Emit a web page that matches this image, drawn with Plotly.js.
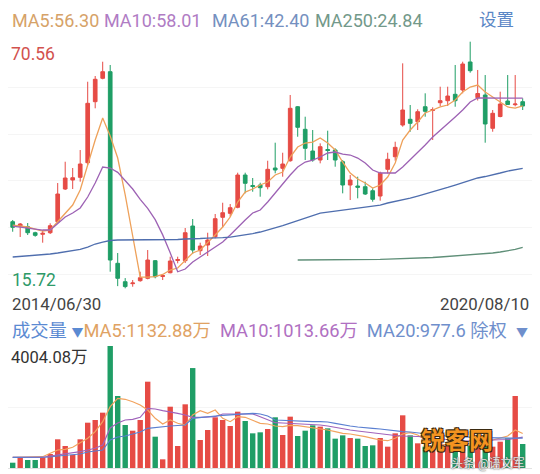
<!DOCTYPE html>
<html><head><meta charset="utf-8">
<script src="https://cdn.plot.ly/plotly-3.0.1.min.js"></script>
<style>html,body{margin:0;padding:0;background:#fff;}#chart{width:540px;height:474px;}</style>
</head><body><div id="chart"></div>
<script>
// ---------- data ----------
const dateLabels = ['2014/06/30', '2020/08/10'];
const priceMaxLabel = 70.56, priceMinLabel = 15.72;
const volMaxLabel = 4004.08;

const openP  = [30.53,29.57,29.42,28.08,27.73,28.08,30.53,37.80,39.80,40.40,
                43.65,57.22,62.42,63.89,21.28,17.18,16.75,17.41,17.94,21.86,
                18.35,19.18,21.90,21.86,29.57,24.08,25.35,27.19,31.51,32.39,
                33.73,40.91,38.58,38.69,38.31,42.47,42.40,44.09,56.10,51.08,
                46.25,44.25,46.59,46.48,43.87,38.69,38.47,38.31,37.42,36.24,
                42.18,44.98,52.03,53.30,52.77,56.10,55.26,56.99,57.44,58.86,
                59.82,66.05,58.11,58.71,51.30,53.92,57.37,56.55,57.22];
const highP  = [30.91,30.24,30.24,28.30,28.68,30.17,39.13,43.87,42.47,46.47,
                61.66,62.93,66.11,65.38,23.57,17.99,17.56,19.41,24.23,22.01,
                18.90,22.75,22.75,29.13,31.13,25.86,28.08,32.24,34.75,34.46,
                41.43,41.43,40.25,39.20,44.09,48.10,45.87,58.71,56.26,53.88,
                50.92,47.96,50.77,46.85,44.25,40.91,40.54,39.43,37.96,41.65,
                45.87,48.32,65.75,56.48,55.53,59.08,55.97,60.55,60.55,65.38,
                66.11,70.56,64.27,63.15,55.37,59.44,63.15,63.15,57.97];
const lowP   = [28.30,27.13,27.57,27.19,25.86,27.79,30.24,37.58,37.80,39.43,
                43.14,55.75,62.20,19.41,16.20,15.72,16.07,17.18,17.72,17.94,
                17.56,19.05,21.28,21.34,23.35,23.12,22.90,26.84,29.28,31.64,
                33.51,36.84,37.20,36.09,37.73,41.29,40.54,43.87,49.43,44.25,
                43.87,43.51,44.25,42.76,36.84,35.35,35.73,36.47,34.98,35.20,
                41.29,44.09,51.66,50.54,50.92,53.88,48.70,56.26,56.26,56.10,
                59.08,63.67,57.48,48.10,50.54,53.75,56.48,56.19,55.37];
const closeP = [29.28,30.02,28.08,27.50,27.95,29.64,36.69,40.25,40.31,43.36,
                56.86,62.20,63.89,22.01,17.94,16.10,16.90,18.07,22.01,18.30,
                18.55,21.79,22.12,28.08,24.23,25.12,26.46,31.20,32.53,33.64,
                40.91,39.07,38.36,38.09,42.18,42.03,43.36,55.75,51.52,46.85,
                44.25,47.21,46.36,44.25,38.69,39.80,38.18,36.69,35.51,41.29,
                44.41,47.07,55.37,52.41,54.99,55.08,55.48,57.44,58.48,57.44,
                65.60,64.11,59.04,52.26,54.64,56.70,56.59,56.70,56.26];

const ma5   = [29.79,29.57,29.35,28.90,28.46,28.68,30.46,32.46,34.24,37.58,
               43.13,48.70,53.59,49.59,44.69,36.47,27.35,18.23,18.20,18.30,
               18.80,19.79,20.23,22.01,23.57,24.23,25.79,27.57,29.35,31.57,
               34.91,37.13,37.80,38.69,39.36,40.92,41.58,44.92,47.14,48.03,
               48.25,49.14,48.03,46.47,43.80,41.36,40.03,39.14,38.02,38.69,
               40.47,43.58,48.70,50.92,52.70,54.70,55.37,56.04,56.48,57.59,
               59.37,60.48,60.93,59.37,58.26,57.15,56.04,55.81,56.30];
const ma10  = [29.57,29.35,29.13,28.90,28.68,28.68,30.20,31.57,32.46,33.58,
               36.02,39.14,42.69,42.47,41.50,39.70,37.80,35.50,33.50,31.00,
               27.60,23.60,19.40,20.00,21.56,22.68,23.79,24.90,26.01,27.57,
               29.35,30.91,32.46,33.13,34.91,36.91,39.14,40.92,42.69,43.80,
               44.25,44.92,45.81,46.03,45.58,45.36,44.69,43.58,42.03,41.36,
               41.36,41.36,42.69,44.25,45.81,47.59,49.36,50.92,52.48,53.82,
               55.37,57.15,58.04,58.04,58.04,57.95,58.00,58.00,58.01];
const ma61  = [22.68,22.79,22.90,23.01,23.12,23.35,23.57,23.79,24.01,24.35,
               24.90,25.57,26.01,26.35,26.46,26.46,26.46,26.46,26.46,26.46,
               26.46,26.46,26.57,26.68,26.68,26.79,26.90,26.90,27.01,27.12,
               27.35,27.57,27.90,28.24,28.68,29.13,29.68,30.24,30.79,31.35,
               31.91,32.46,32.68,32.91,33.13,33.46,33.69,33.91,34.13,34.24,
               34.69,35.02,35.35,35.80,36.24,36.69,37.13,37.58,38.14,38.69,
               39.25,39.80,40.25,40.58,40.92,41.36,41.80,42.14,42.40];
const ma250 = [null,null,null,null,null,null,null,null,null,null,
               null,null,null,null,null,null,null,null,null,null,
               null,null,null,null,null,null,null,null,null,null,
               null,null,null,null,null,null,null,null,22.01,22.01,
               22.01,22.01,22.01,22.06,22.10,22.12,22.12,22.12,22.12,22.14,
               22.19,22.23,22.28,22.34,22.41,22.50,22.57,22.68,22.79,22.90,
               23.01,23.12,23.28,23.43,23.57,23.79,24.01,24.35,24.84];

const volume = [174,351,263,263,351,459,942,722,427,942,
                1487,1575,1816,4004.08,2363,1411,1225,1575,2833,1028,
                285,2012,722,2090,3280,919,1247,1664,1575,1378,
                1848,1543,1138,1171,1280,1664,1083,1685,1050,1225,
                1400,1357,1302,963,1072,985,963,722,744,985,
                700,1138,1729,1072,810,700,650,800,750,700,
                850,750,700,800,700,864,975,2363,788];
const volMa5  = [351,351,351,351,371,482,591,614,679,830,
                 975,1191,1520,2012,2288,2255,2176,2068,1904,1631,
                 1444,1575,1467,1411,1739,1881,1795,1904,1631,1520,
                 1684,1664,1575,1467,1444,1378,1355,1401,1388,1355,
                 1336,1303,1247,1191,1139,1116,1083,1027,975,919,
                 896,975,1116,1159,1083,919,853,788,755,722,
                 722,755,788,853,919,1008,1050,1250,1132.88];
const volMa10 = [351,351,351,351,351,394,427,459,492,535,
                 591,647,755,1313,1477,1575,1598,1664,1959,1936,
                 1881,1848,1795,1739,1664,1664,1664,1684,1772,1772,
                 1795,1795,1772,1684,1598,1487,1477,1467,1460,1444,
                 1428,1411,1378,1329,1280,1247,1214,1182,1139,1116,
                 1083,1067,1050,1050,1034,1017,985,952,919,903,
                 886,886,886,903,919,919,935,968,1013.66];
const volMa20 = [351,351,351,351,351,361,394,410,427,459,
                 525,558,591,919,1017,1050,1116,1182,1303,1336,
                 1346,1378,1395,1411,1631,1664,1674,1707,1730,1749,
                 1772,1789,1795,1772,1707,1575,1560,1543,1530,1520,
                 1520,1520,1510,1467,1411,1378,1346,1313,1303,1280,
                 1247,1214,1191,1182,1149,1116,1083,1067,1050,1034,
                 1017,1008,1000,995,985,978,978,978,977.6];

// ---------- styling / layout ----------
const FONT = "Roboto, 'Noto Sans CJK SC', sans-serif";
const UP = '#e64b45', DOWN = '#1f9e66';
const W = 540, H = 474, ML = 8, MR = 8;
const idx = openP.map((_, i) => i);
const volColors = openP.map((o, i) => closeP[i] >= o ? UP : DOWN);

// pixel geometry of the two panels
const priceTopPx = 40, priceBotPx = 290, maxPx = 41.7, minPx = 288.3;
const pScale = (priceMaxLabel - priceMinLabel) / (minPx - maxPx);
const priceAt = yPx => priceMaxLabel - (yPx - maxPx) * pScale;
const volTopPx = 346, volBotPx = 468;
const firstCandlePx = 12.7, stepPx = 7.5;
const xAt = p => (p - firstCandlePx) / stepPx;

const px = v => (v - ML) / (W - ML - MR);
const py = v => 1 - v / H;
function ann(text, x, y, color, size, xanchor, extra) {
  return Object.assign({text: text, x: px(x), y: py(y), xref: 'paper', yref: 'paper',
    xanchor: xanchor || 'left', yanchor: 'middle', showarrow: false,
    font: {family: FONT, size: size, color: color}}, extra || {});
}

const lineTrace = (y, color, axis, w) => ({type: 'scatter', mode: 'lines', x: idx, y: y,
  yaxis: axis, line: {color: color, width: w || 1.2}, hoverinfo: 'skip', connectgaps: false});

const traces = [
  {type: 'candlestick', x: idx, open: openP, high: highP, low: lowP, close: closeP,
   increasing: {line: {color: UP, width: 1}, fillcolor: UP},
   decreasing: {line: {color: DOWN, width: 1}, fillcolor: DOWN},
   whiskerwidth: 0, hoverinfo: 'skip', yaxis: 'y'},
  lineTrace(ma5, '#eea15a', 'y', 1.3),
  lineTrace(ma10, '#9d62b4', 'y', 1.3),
  lineTrace(ma61, '#4f6eae', 'y', 1.3),
  lineTrace(ma250, '#5f8f78', 'y', 1.3),
  {type: 'bar', x: idx, y: volume, yaxis: 'y2', width: 0.72,
   marker: {color: volColors, line: {width: 0}}, hoverinfo: 'skip'},
  lineTrace(volMa5, '#f2a35e', 'y2', 1.2),
  lineTrace(volMa10, '#a063bb', 'y2', 1.2),
  lineTrace(volMa20, '#5a7fd1', 'y2', 1.2)
];

const annotations = [
  ann('MA5:56.30', 9.6, 20, '#d6a268', 18),
  ann('MA10:58.01', 102, 20, '#b07cc4', 18),
  ann('MA61:42.40', 210, 20, '#7590c0', 18),
  ann('MA250:24.84', 313, 20, '#73998a', 18),
  ann('设置', 516, 20, '#5b87c6', 17.5, 'right'),
  ann(String(priceMaxLabel.toFixed(2)), 9.3, 53.5, '#d2524e', 17.5),
  ann(String(priceMinLabel.toFixed(2)), 9.6, 280, '#2e9a68', 17.5),
  ann(dateLabels[0], 9.6, 303.5, '#444444', 16.8),
  ann(dateLabels[1], 531, 303.5, '#444444', 16.8, 'right'),
  ann('<span style="color:#5b8ad2">成交量 <span style="font-size:12px">▼</span></span>' +
      '<span style="color:#e0a263">MA5:1132.88万</span>  ' +
      '<span style="color:#b070c2">MA10:1013.66万</span>  ' +
      '<span style="color:#6f8fcc">MA20:977.6 除权  <span style="font-size:12px">▼</span></span>',
      9.6, 330, '#5b8ad2', 18.3),
  ann(volMaxLabel.toFixed(2) + '万', 9, 357, '#333333', 16.5),
  ann('<b>锐客网</b>', 457, 441, '#f39320', 24, 'center',
      {font: {family: FONT, size: 24, color: '#f39320',
              shadow: '-1px -1px 0 #3a2a10, 1px -1px 0 #3a2a10, -1px 1px 0 #3a2a10, 1px 1px 0 #3a2a10'}}),
  ann('头条 @语文军', 488, 463, 'rgba(255,255,255,0.9)', 12, 'center',
      {font: {family: FONT, size: 12, color: 'rgba(255,255,255,0.85)',
              shadow: '0 0 2px #555, 0 0 1px #555'}})
];

const layout = {
  width: W, height: H, margin: {l: ML, r: MR, t: 0, b: 0, pad: 0},
  paper_bgcolor: '#ffffff', plot_bgcolor: '#ffffff', showlegend: false,
  xaxis: {range: [xAt(ML), xAt(W - MR)], showgrid: false, zeroline: false,
          showticklabels: false, ticks: '', rangeslider: {visible: false},
          fixedrange: true, anchor: 'y', showline: false},
  yaxis: {domain: [py(priceBotPx), py(priceTopPx)],
          range: [priceAt(priceBotPx), priceAt(priceTopPx)],
          tickvals: [40.4, 87, 134, 180, 227, 274].map(priceAt),
          showticklabels: false, ticks: '', gridcolor: '#f5f5f5', gridwidth: 1,
          zeroline: false, fixedrange: true, anchor: 'x'},
  yaxis2: {domain: [py(volBotPx), py(volTopPx)], range: [0, volMaxLabel],
           tickvals: [volMaxLabel / 2, volMaxLabel * 0.999],
           showticklabels: false, ticks: '', gridcolor: '#f5f5f5',
           zeroline: true, zerolinecolor: '#e2e2e2', zerolinewidth: 1,
           fixedrange: true, anchor: 'x'},
  annotations: annotations
};

Plotly.newPlot('chart', traces, layout, {staticPlot: true, displayModeBar: false});
</script>
</body></html>
